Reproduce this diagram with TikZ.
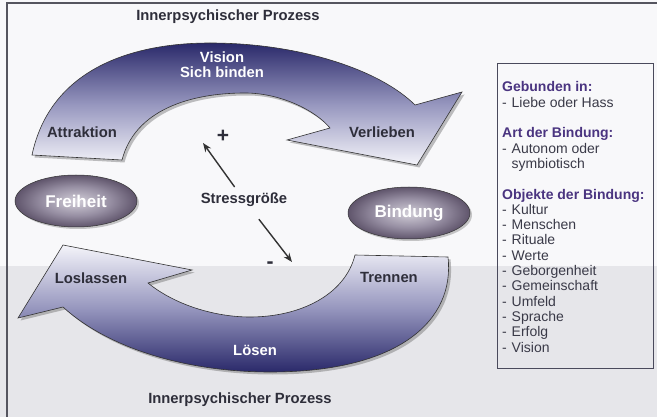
\documentclass[tikz,border=0pt]{standalone}
\usepackage{fontspec}
\setmainfont{Liberation Sans}
\usetikzlibrary{arrows.meta,shadows,shapes.geometric}
\definecolor{navy}{HTML}{2A296A}
\definecolor{midlav}{HTML}{9696BE}
\definecolor{palelav}{HTML}{F4F4FA}
\definecolor{labelc}{HTML}{2E2E3A}
\definecolor{headc}{HTML}{4A3480}
\definecolor{itemc}{HTML}{3A3A48}
\definecolor{bgtop}{HTML}{F8F8FA}
\definecolor{bgbot}{HTML}{E6E6EA}
\definecolor{ellin}{HTML}{D2CED8}
\definecolor{ellmid}{HTML}{978FA3}
\definecolor{elldark}{HTML}{463A52}
\definecolor{ellout}{HTML}{1E1624}
\definecolor{framec}{HTML}{55555F}
\definecolor{boxc}{HTML}{4A4A5C}
\pgfdeclareradialshading{ellshade}{\pgfpoint{0bp}{0bp}}{color(0bp)=(ellin); color(14bp)=(ellmid); color(30bp)=(elldark); color(42bp)=(ellout); color(50bp)=(ellout)}
\newcommand{\bxdash}{\makebox[9.5pt][l]{-}}
\begin{document}
\begin{tikzpicture}[x=1pt,y=-1pt,
  lbl/.style={font=\fontsize{14.8}{16}\selectfont\bfseries, text=labelc, inner sep=1pt},
  lbllight/.style={lbl, text=white},
  bigarrow/.style={draw=black!80, line width=0.6pt,
    drop shadow={shadow xshift=2.5pt, shadow yshift=-2.5pt, opacity=0.35, fill=black!70}},
  ellnode/.style={ellipse, draw=black!80, line width=0.5pt, shading=ellshade,
    minimum width=122pt, minimum height=52pt, inner sep=0pt,
    font=\fontsize{17}{19}\selectfont\bfseries, text=white,
    drop shadow={shadow xshift=2pt, shadow yshift=-2pt, opacity=0.3, fill=black!70}},
  stressarrow/.style={draw=black!80, line width=1.4pt, -{Stealth[length=9pt,width=7pt]}},
  boxhead/.style={anchor=base west, font=\fontsize{14}{15}\selectfont\bfseries, text=headc, inner sep=0pt},
  boxitem/.style={anchor=base west, font=\fontsize{14}{15}\selectfont, text=itemc, inner sep=0pt},
  infobox/.style={draw=boxc, line width=1pt, anchor=north west, minimum width=156pt, minimum height=305pt, inner sep=0pt}
]
\useasboundingbox (0,0) rectangle (657,417);
% background
\fill[bgtop] (0,0) rectangle (657,417);
\fill[bgbot] (0,266) rectangle (657,417);
\draw[framec, line width=1.2pt] (7,417) -- (7,3) -- (657,3);

% upper arrow
\path[bigarrow, top color=navy, bottom color=palelav, middle color=midlav]
  (32,155) .. controls (50,70) and (130,43) .. (210,43)
  .. controls (300,43) and (380,70) .. (415,105)
  -- (462,92) -- (417,165) -- (287,140) -- (330,128)
  .. controls (315,110) and (280,93) .. (245,93)
  .. controls (190,93) and (135,110) .. (122,160) -- cycle;

% lower arrow
\path[bigarrow, top color=palelav, bottom color=navy, middle color=midlav]
  (448,257) .. controls (455,320) and (400,372) .. (270,372)
  .. controls (190,372) and (110,350) .. (63,307)
  -- (18,318) -- (63,245) -- (192,270) -- (148,283)
  .. controls (175,305) and (215,317) .. (250,317)
  .. controls (300,317) and (345,295) .. (355,255) -- cycle;

% titles and labels
\node[lbl] (title1) at (228,17) {Innerpsychischer Prozess};
\node[lbl] (title2) at (240,400) {Innerpsychischer Prozess};
\node[lbllight] (vision) at (222,57) {Vision};
\node[lbllight] (binden) at (222,72) {Sich binden};
\node[lbl] (attr) at (82,132) {Attraktion};
\node[lbl] (verl) at (382,132) {Verlieben};
\node[lbl] (losl) at (91,278) {Loslassen};
\node[lbl] (trenn) at (389,277) {Trennen};
\node[lbllight] (loesen) at (255,350) {Lösen};

% ellipses
\node[ellnode] (frei) at (76,201) {Freiheit};
\node[ellnode] (bind) at (409,213) {Bindung};

% stress
\node[lbl] (stress) at (244,200) {Stressgröße};
\node[font=\fontsize{21}{21}\selectfont\bfseries, text=labelc, inner sep=0pt] (plus) at (223,136) {+};
\node[font=\fontsize{21}{21}\selectfont\bfseries, text=labelc, inner sep=0pt] (minus) at (270,265) {-};
\coordinate (tipA) at (203,143);
\coordinate (tipB) at (292,262);
\draw[stressarrow, shorten <=6pt] (stress) -- (tipA);
\draw[stressarrow, shorten <=14pt] (stress) -- (tipB);

% info box
\node[infobox] (box) at (497,63) {};
\node[boxhead] (h1) at (502,92) {Gebunden in:};
\node[boxitem] (i1) at (502,107.3) {\bxdash Liebe oder Hass};
\node[boxhead] (h2) at (502,137.9) {Art der Bindung:};
\node[boxitem] (i2) at (502,153.2) {\bxdash Autonom oder};
\node[boxitem] (i3) at (511.5,168.5) {symbiotisch};
\node[boxhead] (h3) at (502,199.1) {Objekte der Bindung:};
\foreach \w [count=\k from 0] in {Kultur,Menschen,Rituale,Werte,Geborgenheit,Gemeinschaft,Umfeld,Sprache,Erfolg,Vision}
  \node[boxitem] (o\k) at (502,214.4+15.3*\k) {\bxdash \w};
\end{tikzpicture}
\end{document}
